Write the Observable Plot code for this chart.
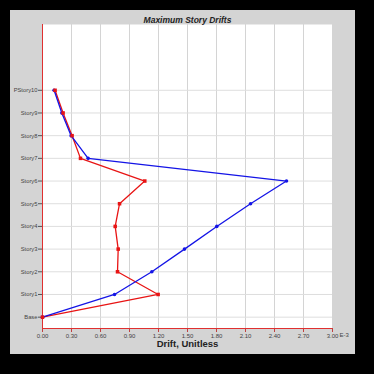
<!DOCTYPE html>
<html>
<head>
<meta charset="utf-8">
<script src="https://cdn.jsdelivr.net/npm/d3@7"></script>
<script src="https://cdn.jsdelivr.net/npm/@observablehq/plot@0.6"></script>
<style>
  html, body { margin: 0; padding: 0; background: #000; }
  #wrap { position: relative; width: 374px; height: 374px; background: #000; overflow: hidden; }
  #panel { position: absolute; left: 10px; top: 10px; width: 345px; height: 344px; background: #d4d4d4; }
  #chart { position: absolute; left: 0; top: 0; }
</style>
</head>
<body>
<div id="wrap"><div id="panel"></div><div id="chart"></div></div>
<script>
const stories = ["Base","Story1","Story2","Story3","Story4","Story5","Story6","Story7","Story8","Story9","PStory10"];
const blueDrift = [0, 0.745, 1.131, 1.469, 1.803, 2.152, 2.524, 0.472, 0.296, 0.200, 0.120];
const redDrift  = [0, 1.196, 0.776, 0.783, 0.752, 0.797, 1.058, 0.393, 0.306, 0.213, 0.130];
const xTicks = [0, 0.3, 0.6, 0.9, 1.2, 1.5, 1.8, 2.1, 2.4, 2.7, 3.0];
const title = "Maximum Story Drifts";
const xLabel = "Drift, Unitless";
const xUnit = "E-3";

const blue = blueDrift.map((v, i) => ({x: v, y: i}));
const red = redDrift.map((v, i) => ({x: v, y: i}));
const levels = stories.map((s, i) => i);

const BLUE = "#1414e6", RED = "#e81414";
const font = "Liberation Sans, Arial, sans-serif";

const chart = Plot.plot({
  width: 374,
  height: 374,
  marginLeft: 42,
  marginRight: 42,
  marginTop: 24,
  marginBottom: 46,
  style: {background: "transparent", fontFamily: font, overflow: "visible"},
  x: {domain: [0, 3], ticks: xTicks},
  y: {domain: [-0.5, 12.9]},
  marks: [
    Plot.frame({fill: "white", stroke: "none"}),
    Plot.gridX(xTicks, {stroke: "#d4d4d4", strokeOpacity: 1}),
    Plot.gridY(levels, {stroke: "#dedede", strokeOpacity: 1}),
    Plot.axisX(xTicks, {
      tickSize: 4, tickPadding: 1, fontSize: 6, fill: "#444", stroke: "#c04040",
      tickFormat: d => d.toFixed(2), label: null
    }),
    Plot.text([xUnit], {x: () => 3, frameAnchor: "bottom", dx: 7, dy: 8.5, textAnchor: "start", fontSize: 6, fill: "#444"}),
    Plot.axisY(levels, {
      tickSize: 4, tickPadding: 1, fontSize: 5.8, fill: "#444", stroke: "#555",
      tickFormat: i => stories[i], label: null
    }),
    Plot.ruleX([0], {stroke: "#e03030", strokeWidth: 1}),
    Plot.ruleY([-0.5], {stroke: "#e03030", strokeWidth: 1}),
    Plot.line(red, {x: "x", y: "y", stroke: RED, strokeWidth: 1.3}),
    Plot.line(blue, {x: "x", y: "y", stroke: BLUE, strokeWidth: 1.3}),
    Plot.dot(blue, {x: "x", y: "y", r: 1.8, fill: BLUE, stroke: "none"}),
    Plot.dot(red, {x: "x", y: "y", r: 2, symbol: "square", fill: RED, stroke: "none"}),
    Plot.text([title], {frameAnchor: "top", dy: -8, fontSize: 8.5, fontWeight: "bold", fontStyle: "italic", fill: "#222"}),
    Plot.text([xLabel], {frameAnchor: "bottom", dy: 18, fontSize: 9.5, fontWeight: "bold", fill: "#222"})
  ]
});
document.getElementById("chart").appendChild(chart);
</script>
</body>
</html>
